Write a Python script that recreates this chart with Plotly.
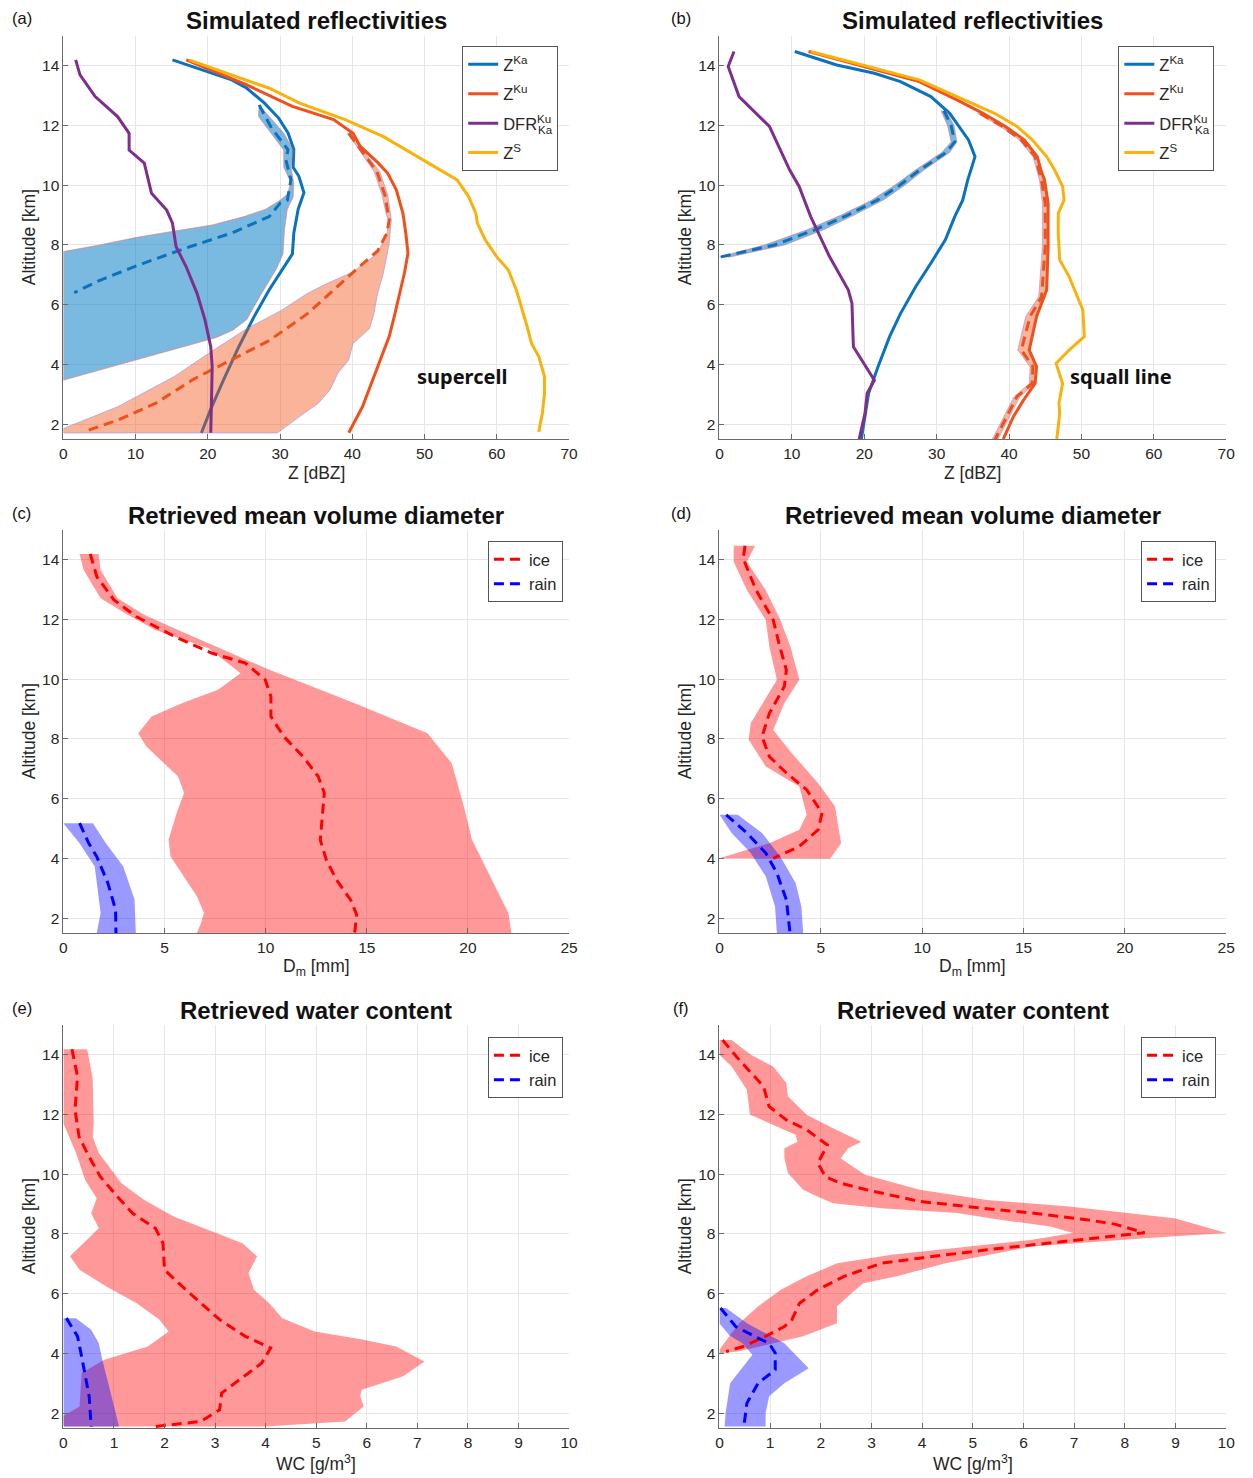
import plotly.graph_objects as go

# ---------------- Panel (a): supercell, simulated reflectivities [dBZ]
a_ka_alt = [14.2, 13.53, 13.25, 12.76, 12.25, 11.75, 11.2, 10.95, 10.6, 10.3, 9.75, 9.2, 8.4, 7.7, 7.3, 6.5, 5.6, 4.6, 3.5, 2.5, 1.7]
a_ka = [15.1, 23.3, 25.4, 27.8, 29.8, 31.1, 31.9, 31.9, 31.8, 32.6, 33.3, 32.5, 31.9, 31.7, 30.6, 28.5, 26.4, 24.3, 22.2, 20.4, 19.1]
a_ku_alt = [14.2, 13.36, 12.64, 12.2, 11.74, 11.3, 10.74, 10.4, 9.84, 9.06, 8.4, 7.72, 7.05, 6.38, 5.6, 4.93, 4.03, 3.36, 2.58, 1.71]
a_ku = [17.0, 25.4, 31.7, 37.4, 40.1, 41.1, 43.6, 44.9, 46.1, 47.0, 47.4, 47.7, 47.2, 46.6, 45.8, 45.1, 43.7, 42.7, 41.4, 39.5]
a_s_alt = [14.2, 13.8, 13.25, 12.75, 12.2, 11.63, 10.68, 10.18, 9.62, 9.06, 8.73, 8.17, 7.6, 7.16, 6.49, 5.93, 5.26, 4.7, 4.26, 3.59, 3.03, 2.36, 1.74]
a_s = [17.4, 22.2, 28.5, 32.7, 39.0, 44.3, 51.1, 54.5, 56.1, 57.1, 57.3, 58.4, 60.0, 61.6, 62.7, 63.4, 64.2, 64.8, 65.8, 66.6, 66.6, 66.3, 65.8]
a_dfr_alt = [14.2, 13.7, 12.97, 12.3, 11.74, 11.18, 10.74, 9.73, 9.17, 8.73, 7.94, 7.27, 6.38, 5.49, 4.59, 3.92, 2.8, 1.71]
a_dfr = [1.7, 2.3, 4.4, 7.5, 9.1, 9.1, 11.2, 12.2, 14.3, 15.1, 15.6, 17.0, 18.5, 19.6, 20.4, 20.6, 20.5, 20.4]
# retrieved Ka (dashed) and its uncertainty band
a_kar_alt = [12.69, 11.92, 11.19, 10.85, 10.18, 9.5, 9.4, 8.95, 8.4, 7.9, 7.3, 6.8, 6.4]
a_kar = [27.1, 28.8, 31.1, 30.8, 31.5, 31.0, 30.0, 28.5, 23.3, 17.0, 10.1, 4.9, 1.5]
a_kab_hi_alt = [12.69, 12.5, 11.75, 11.18, 10.6, 10.07, 9.6, 9.2, 8.5, 7.7, 7.2, 6.8, 6.2, 5.5, 5.15, 4.9, 4.5, 4.15, 3.8, 3.47]
a_kab_hi = [27.1, 27.8, 30.5, 31.8, 31.5, 31.9, 31.8, 31.0, 30.6, 30.4, 29.5, 28.5, 27.0, 25.4, 23.5, 21.2, 15.4, 10.1, 4.9, 0.0]
a_kab_lo_alt = [12.69, 12.3, 11.6, 11.18, 10.6, 10.1, 9.7, 9.5, 9.2, 8.95, 8.67, 8.45, 8.25, 8.0, 7.78, 3.47]
a_kab_lo = [27.1, 27.0, 29.2, 30.5, 30.5, 31.5, 31.0, 30.0, 28.0, 25.0, 20.6, 15.0, 10.0, 5.0, 0.0, 0.0]
# retrieved Ku (dashed) and its uncertainty band
a_kur_alt = [11.74, 11.3, 10.46, 9.68, 8.84, 8.4, 7.8, 7.3, 6.5, 5.7, 4.8, 4.15, 3.5, 2.7, 2.13, 1.74]
a_kur = [39.5, 40.8, 43.4, 44.5, 45.1, 44.8, 43.5, 41.1, 37.4, 33.8, 28.5, 23.3, 18.0, 12.8, 7.5, 2.8]
a_kub_hi_alt = [11.74, 11.3, 10.46, 9.68, 9.0, 8.84, 8.05, 7.05, 6.38, 5.7, 5.2, 4.7, 4.15, 3.7, 3.14, 2.7, 2.25, 1.7]
a_kub_hi = [39.9, 41.0, 43.8, 44.9, 45.3, 45.4, 45.1, 44.3, 43.5, 43.0, 42.4, 40.1, 39.5, 38.0, 36.9, 35.3, 32.7, 29.6]
a_kub_lo_alt = [11.74, 11.3, 10.46, 9.68, 9.0, 8.84, 8.4, 7.72, 7.1, 6.7, 6.38, 5.8, 5.2, 4.37, 3.6, 2.58, 1.85, 1.7]
a_kub_lo = [39.3, 40.6, 43.0, 44.1, 44.7, 45.0, 44.8, 43.5, 40.1, 36.4, 33.8, 30.1, 25.4, 20.1, 15.4, 7.5, 0.0, 0.0]

# ---------------- Panel (b): squall line
b_ka_alt = [14.48, 14.03, 13.75, 13.47, 12.97, 12.41, 11.52, 10.96, 10.18, 9.5, 8.95, 8.17, 7.39, 6.6, 5.7, 4.93, 3.92, 3.03, 1.5]
b_ka = [10.4, 16.2, 21.4, 25.0, 29.2, 31.8, 34.4, 35.3, 34.3, 33.6, 32.5, 31.2, 29.2, 27.1, 25.0, 23.5, 21.9, 20.6, 19.6]
b_ku_alt = [14.48, 13.98, 13.47, 12.86, 12.41, 11.97, 11.52, 10.96, 10.51, 10.18, 9.4, 7.94, 6.49, 5.6, 4.6, 4.48, 3.92, 3.36, 2.8, 2.25, 1.5]
b_ku = [12.3, 19.8, 27.6, 32.8, 36.4, 39.5, 42.1, 43.9, 44.4, 44.9, 45.4, 45.4, 45.2, 43.8, 42.9, 42.8, 43.8, 43.6, 42.0, 40.6, 39.2]
b_s_alt = [14.48, 14.03, 13.53, 12.97, 12.41, 11.97, 11.52, 10.96, 10.51, 9.96, 9.5, 9.06, 8.39, 7.5, 6.94, 5.82, 4.93, 4.48, 4.03, 3.36, 2.7, 2.36, 1.5]
b_s = [12.6, 19.8, 27.6, 32.8, 38.0, 41.1, 43.2, 45.2, 46.3, 47.4, 47.6, 46.8, 46.8, 47.0, 48.3, 50.2, 50.4, 48.3, 46.5, 47.4, 46.9, 47.0, 46.6]
b_dfr_alt = [14.48, 13.98, 12.97, 11.97, 10.51, 9.96, 8.95, 7.61, 6.49, 6.04, 4.59, 4.15, 3.47, 3.03, 2.36, 1.5]
b_dfr = [2.0, 1.2, 2.7, 6.9, 9.7, 11.0, 12.6, 15.2, 17.8, 18.3, 18.5, 19.6, 21.4, 20.4, 20.1, 19.3]
b_kar_alt = [12.5, 12.0, 11.45, 11.1, 10.5, 10.0, 9.5, 9.0, 8.5, 8.0, 7.6]
b_kar = [31.0, 32.0, 32.5, 31.3, 27.6, 24.9, 21.8, 17.7, 13.1, 7.6, 0.2]
b_kab_lo = [30.6, 31.5, 32.0, 30.7, 27.0, 24.2, 21.0, 16.8, 12.0, 6.2, 0.0]
b_kab_hi = [31.3, 32.4, 32.8, 31.8, 28.2, 25.6, 22.6, 18.6, 14.3, 9.0, 1.5]
b_kur_alt = [12.41, 11.97, 11.52, 10.96, 10.18, 9.4, 7.94, 6.27, 5.6, 4.48, 3.92, 3.36, 2.92, 2.25, 1.5]
b_kur = [36.0, 39.1, 41.7, 43.6, 44.5, 45.0, 45.0, 44.5, 42.9, 41.7, 43.3, 43.2, 41.1, 39.7, 38.1]
b_kub_lo = [35.6, 38.8, 41.4, 43.3, 44.2, 44.6, 44.6, 44.1, 42.3, 41.2, 42.9, 42.8, 40.7, 39.3, 37.7]
b_kub_hi = [36.4, 39.5, 42.1, 44.0, 44.9, 45.4, 45.4, 45.0, 43.6, 42.6, 43.7, 43.6, 41.5, 40.1, 38.5]

# ---------------- Panel (c): supercell Dm [mm]
c_ice_alt = [14.2, 13.44, 12.66, 12.1, 11.43, 10.87, 10.54, 9.98, 9.42, 8.75, 8.08, 7.41, 6.74, 6.19, 5.4, 4.62, 3.95, 3.28, 2.61, 2.11, 1.5]
c_ice = [1.33, 1.65, 2.5, 3.6, 5.5, 7.36, 9.0, 9.98, 10.26, 10.26, 10.9, 11.85, 12.6, 12.9, 12.8, 12.7, 13.0, 13.5, 14.2, 14.5, 14.4]
c_ice_lo_alt = [14.2, 13.66, 12.71, 12.21, 11.65, 11.04, 10.2, 9.65, 9.2, 8.75, 8.19, 7.75, 6.74, 6.19, 5.52, 4.62, 4.06, 3.51, 2.73, 2.17, 1.83, 1.5]
c_ice_lo = [0.8, 1.0, 1.84, 3.05, 4.55, 7.17, 8.76, 7.64, 5.86, 4.36, 3.7, 4.1, 5.67, 5.97, 5.6, 5.2, 5.3, 5.86, 6.6, 6.95, 6.8, 6.6]
c_ice_hi_alt = [14.2, 13.66, 12.71, 12.16, 11.65, 11.1, 10.37, 9.2, 8.19, 7.19, 5.74, 4.62, 2.95, 2.17, 1.5]
c_ice_hi = [1.74, 1.84, 2.68, 3.99, 5.67, 7.54, 10.0, 14.4, 18.0, 19.2, 19.8, 20.2, 21.4, 22.0, 22.15]
c_rain_alt = [5.18, 4.51, 4.06, 3.17, 2.28, 1.5]
c_rain = [0.8, 1.25, 1.65, 2.2, 2.58, 2.6]
c_rain_lo_alt = [5.18, 4.51, 3.73, 2.17, 1.5]
c_rain_lo = [0.0, 0.8, 1.55, 1.84, 1.65]
c_rain_hi_alt = [5.18, 4.51, 3.73, 2.61, 1.5]
c_rain_hi = [1.46, 2.1, 2.96, 3.52, 3.58]

# ---------------- Panel (d): squall line Dm [mm]
d_ice_alt = [14.47, 14.05, 12.99, 11.99, 11.21, 10.31, 9.76, 8.86, 8.08, 7.41, 6.86, 6.3, 5.52, 4.96, 4.4, 4.0]
d_ice = [1.26, 1.17, 1.8, 2.65, 2.93, 3.3, 3.2, 2.46, 2.1, 2.46, 3.3, 4.3, 5.06, 4.87, 3.94, 2.65]
d_ice_lo_alt = [14.47, 13.94, 12.99, 11.99, 11.1, 9.98, 8.53, 7.97, 7.08, 6.41, 5.46, 4.96, 4.51, 4.0]
d_ice_lo = [0.7, 0.7, 1.35, 2.28, 2.46, 2.83, 1.54, 1.44, 2.28, 3.94, 4.3, 3.94, 2.46, 0.0]
d_ice_hi_alt = [14.47, 13.94, 12.99, 11.99, 11.1, 9.98, 9.2, 8.3, 7.52, 6.52, 5.74, 4.51, 3.99]
d_ice_hi = [1.76, 1.35, 2.28, 3.0, 3.5, 3.94, 3.2, 2.65, 3.57, 4.87, 5.7, 6.0, 5.46]
d_rain_alt = [5.46, 4.85, 4.18, 3.51, 2.61, 1.5]
d_rain = [0.33, 1.35, 2.28, 2.83, 3.3, 3.48]
d_rain_lo_alt = [5.46, 4.85, 4.18, 3.4, 2.39, 1.5]
d_rain_lo = [0.0, 0.6, 1.54, 2.28, 2.74, 2.83]
d_rain_hi_alt = [5.46, 4.85, 4.06, 3.17, 2.39, 1.5]
d_rain_hi = [0.9, 2.1, 3.0, 3.76, 4.04, 4.13]

# ---------------- Panel (e): supercell water content [g/m3]
e_ice_alt = [14.19, 13.27, 12.16, 11.26, 10.71, 9.92, 9.25, 8.69, 8.19, 7.69, 6.8, 6.35, 5.68, 5.13, 4.57, 4.18, 3.67, 3.0, 2.67, 2.11, 1.72, 1.55]
e_ice = [0.17, 0.28, 0.23, 0.31, 0.47, 0.73, 1.07, 1.37, 1.82, 1.97, 2.0, 2.28, 2.72, 3.09, 3.6, 4.1, 3.92, 3.39, 3.13, 3.09, 2.72, 1.82]
e_ice_lo_alt = [14.19, 11.71, 10.71, 9.81, 9.2, 8.69, 8.19, 7.25, 6.8, 6.24, 5.68, 5.13, 4.73, 4.23, 3.79, 3.34, 2.22, 1.9, 1.55]
e_ice_lo = [0.0, 0.0, 0.25, 0.43, 0.66, 0.55, 0.7, 0.13, 0.32, 0.85, 1.45, 1.9, 2.08, 1.67, 0.81, 0.36, 0.32, 0.0, 0.0]
e_ice_hi_alt = [14.19, 13.22, 11.71, 11.26, 10.71, 9.7, 9.14, 8.58, 8.13, 7.69, 7.25, 6.69, 6.13, 5.68, 5.18, 4.73, 4.46, 4.23, 3.73, 3.23, 2.78, 2.56, 2.22, 1.72, 1.55]
e_ice_hi = [0.47, 0.58, 0.6, 0.58, 0.7, 1.15, 1.6, 2.19, 2.87, 3.54, 3.83, 3.66, 3.77, 4.07, 4.33, 4.97, 5.94, 6.58, 7.14, 6.72, 5.9, 5.87, 5.94, 5.57, 4.0]
e_rain_alt = [5.18, 4.57, 3.9, 3.23, 2.56, 1.55]
e_rain = [0.06, 0.28, 0.36, 0.43, 0.51, 0.55]
e_rain_lo_alt = [5.18, 1.55]
e_rain_lo = [0.0, 0.0]
e_rain_hi_alt = [5.18, 4.79, 4.34, 3.79, 2.78, 1.78, 1.55]
e_rain_hi = [0.25, 0.55, 0.7, 0.77, 0.92, 1.07, 1.1]

# ---------------- Panel (f): squall line water content [g/m3]
f_ice_alt = [14.5, 13.83, 12.94, 12.27, 11.82, 11.49, 10.98, 10.37, 9.92, 9.7, 9.48, 9.09, 8.86, 8.7, 8.47, 8.33, 8.04, 7.93, 7.7, 7.47, 7.19, 7.02, 6.58, 6.13, 5.68, 5.13, 4.9, 4.57, 4.23, 4.06]
f_ice = [0.06, 0.39, 0.87, 0.98, 1.32, 1.72, 2.13, 1.94, 2.09, 2.39, 2.9, 3.95, 5.2, 6.17, 7.28, 7.8, 8.39, 7.8, 6.5, 5.28, 3.95, 3.2, 2.46, 1.94, 1.58, 1.43, 1.28, 0.91, 0.47, 0.13]
f_ice_lo_alt = [14.5, 14.0, 13.61, 12.83, 12.0, 11.71, 11.32, 11.09, 10.87, 10.54, 10.04, 9.48, 9.25, 9.03, 8.86, 8.7, 8.47, 8.25, 8.03, 7.81, 7.58, 7.3, 7.02, 6.58, 6.13, 5.57, 5.01, 4.68, 4.12, 4.0]
f_ice_lo = [0.0, 0.0, 0.24, 0.54, 0.6, 0.98, 1.5, 1.54, 1.28, 1.28, 1.35, 1.65, 1.94, 2.24, 3.2, 4.69, 5.57, 6.53, 6.98, 6.17, 4.9, 3.4, 2.32, 1.72, 1.21, 0.76, 0.39, 0.24, 0.0, 0.0]
f_ice_hi_alt = [14.5, 14.0, 13.61, 13.06, 12.61, 11.99, 11.54, 11.09, 10.87, 10.54, 9.98, 9.48, 9.14, 8.92, 8.53, 8.03, 7.86, 7.58, 7.02, 6.58, 6.35, 6.02, 5.57, 5.01, 4.57, 4.06, 4.0]
f_ice_hi = [0.24, 0.62, 1.06, 1.32, 1.35, 1.72, 2.24, 2.8, 2.54, 2.39, 2.87, 3.95, 5.28, 6.9, 8.98, 10.0, 8.39, 6.17, 4.46, 3.5, 2.84, 2.61, 2.32, 2.32, 1.65, 0.36, 0.0]
f_rain_alt = [5.52, 4.9, 4.57, 4.34, 4.01, 3.45, 3.0, 2.33, 1.55]
f_rain = [0.02, 0.32, 0.69, 0.98, 1.1, 1.1, 0.76, 0.54, 0.48]
f_rain_lo_alt = [5.52, 5.0, 4.6, 4.34, 3.95, 3.0, 2.0, 1.55]
f_rain_lo = [0.0, 0.0, 0.2, 0.45, 0.65, 0.21, 0.12, 0.1]
f_rain_hi_alt = [5.52, 5.0, 4.34, 3.5, 3.0, 2.56, 2.0, 1.55]
f_rain_hi = [0.13, 0.55, 1.28, 1.76, 1.28, 0.98, 0.91, 0.91]

# ---------------- styles
W, H = 1253, 1478
FONT = "Liberation Sans, Arial, sans-serif"
C_KA = "#0A72BE"
C_KU = "#F0501A"
C_DFR = "#7E2F8E"
C_S = "#F9B10C"
DASH = "10px,6px"
LW = 3.0

fig = go.Figure()


def line(x, y, color, ax, name=None, dash=None, width=LW, legend=None, rank=None, group=None):
    fig.add_trace(go.Scatter(
        x=x, y=y, mode="lines", name=name,
        line=dict(color=color, width=width, dash=dash),
        showlegend=name is not None, legend=legend, legendrank=rank, legendgroup=group,
        xaxis="x" + ax, yaxis="y" + ax, hoverinfo="skip"))


def band(hx, hy, lx, ly, fill, edge, ax):
    fig.add_trace(go.Scatter(
        x=list(hx) + list(lx)[::-1], y=list(hy) + list(ly)[::-1],
        mode="lines", fill="toself", fillcolor=fill,
        line=dict(color=edge if edge else "rgba(0,0,0,0)", width=0.8 if edge else 0),
        showlegend=False, xaxis="x" + ax, yaxis="y" + ax, hoverinfo="skip"))


KA_FILL = "rgba(0,120,195,0.52)"
KU_FILL = "rgba(240,80,20,0.43)"
KA_EDGE = "rgba(240,110,110,0.7)"
KU_EDGE = "rgba(130,130,240,0.6)"

# (a)
line(a_ka, a_ka_alt, C_KA, "", "Z<sup>Ka</sup>", legend="legend", rank=1, group="a1")
band(a_kab_hi, a_kab_hi_alt, a_kab_lo, a_kab_lo_alt, KA_FILL, KA_EDGE, "")
band(a_kub_hi, a_kub_hi_alt, a_kub_lo, a_kub_lo_alt, KU_FILL, KU_EDGE, "")
line(a_kar, a_kar_alt, C_KA, "", dash=DASH)
line(a_kur, a_kur_alt, C_KU, "", dash=DASH)
line(a_ku, a_ku_alt, C_KU, "", "Z<sup>Ku</sup>", legend="legend", rank=2, group="a2")
line(a_dfr, a_dfr_alt, C_DFR, "", "DFR<sup>Ku</sup>", legend="legend", rank=3, group="a3")
line(a_s, a_s_alt, C_S, "", "Z<sup>S</sup>", legend="legend", rank=4, group="a4")

# (b)
line(b_ka, b_ka_alt, C_KA, "2", "Z<sup>Ka</sup>", legend="legend2", rank=1, group="b1")
band(b_kab_hi, b_kar_alt, b_kab_lo, b_kar_alt, KA_FILL, KA_EDGE, "2")
band(b_kub_hi, b_kur_alt, b_kub_lo, b_kur_alt, KU_FILL, KU_EDGE, "2")
line(b_ku, b_ku_alt, C_KU, "2", "Z<sup>Ku</sup>", legend="legend2", rank=2, group="b2")
line(b_kar, b_kar_alt, C_KA, "2", dash=DASH)
line(b_kur, b_kur_alt, C_KU, "2", dash=DASH)
line(b_dfr, b_dfr_alt, C_DFR, "2", "DFR<sup>Ku</sup>", legend="legend2", rank=3, group="b3")
line(b_s, b_s_alt, C_S, "2", "Z<sup>S</sup>", legend="legend2", rank=4, group="b4")

ICE_FILL = "rgba(255,0,0,0.4)"
RAIN_FILL = "rgba(0,0,255,0.4)"
panels = [
    ("3", "legend3", c_ice_hi, c_ice_hi_alt, c_ice_lo, c_ice_lo_alt, c_rain_hi, c_rain_hi_alt, c_rain_lo, c_rain_lo_alt, c_ice, c_ice_alt, c_rain, c_rain_alt),
    ("4", "legend4", d_ice_hi, d_ice_hi_alt, d_ice_lo, d_ice_lo_alt, d_rain_hi, d_rain_hi_alt, d_rain_lo, d_rain_lo_alt, d_ice, d_ice_alt, d_rain, d_rain_alt),
    ("5", "legend5", e_ice_hi, e_ice_hi_alt, e_ice_lo, e_ice_lo_alt, e_rain_hi, e_rain_hi_alt, e_rain_lo, e_rain_lo_alt, e_ice, e_ice_alt, e_rain, e_rain_alt),
    ("6", "legend6", f_ice_hi, f_ice_hi_alt, f_ice_lo, f_ice_lo_alt, f_rain_hi, f_rain_hi_alt, f_rain_lo, f_rain_lo_alt, f_ice, f_ice_alt, f_rain, f_rain_alt),
]
for ax, lg, ih, iha, il, ila, rh, rha, rl, rla, ice, ice_alt, rain, rain_alt in panels:
    band(ih, iha, il, ila, ICE_FILL, None, ax)
    band(rh, rha, rl, rla, RAIN_FILL, None, ax)
    line(ice, ice_alt, "#FF0000", ax, "ice", dash=DASH, legend=lg, rank=1)
    line(rain, rain_alt, "#0000FF", ax, "rain", dash=DASH, legend=lg, rank=2)

# ---------------- layout
XL = [60 / W, 571 / W]
XR = [723 / W, 1235 / W]
ROWS = [[1 - 439 / H, 1 - 36 / H], [1 - 933 / H, 1 - 530 / H], [1 - 1428 / H, 1 - 1025 / H]]
XR_RANGES = [[0, 70], [0, 70], [0, 25], [0, 25], [0, 10], [0, 10]]
XDT = [10, 10, 5, 5, 1, 1]

axis_style = dict(
    showline=True, linecolor="#6a6a6a", linewidth=1, mirror=False,
    ticks="inside", ticklen=5, tickcolor="#6a6a6a",
    showgrid=True, gridcolor="#e6e6e6", gridwidth=1, zeroline=False,
    tickfont=dict(family=FONT, size=15.5, color="#262626"),
)

layout = dict(
    width=W, height=H, margin=dict(l=0, r=0, t=0, b=0),
    paper_bgcolor="white", plot_bgcolor="white",
    font=dict(family=FONT, color="#262626"),
)
axes_names = ["", "2", "3", "4", "5", "6"]
for i, an in enumerate(axes_names):
    xd = XL if i % 2 == 0 else XR
    yd = ROWS[i // 2]
    layout["xaxis" + an] = dict(axis_style, domain=xd, range=XR_RANGES[i], dtick=XDT[i], tick0=0,
                                anchor="y" + an)
    layout["yaxis" + an] = dict(axis_style, domain=yd, range=[1.5, 15], tickvals=[2, 4, 6, 8, 10, 12, 14],
                                anchor="x" + an)

leg_style = dict(bgcolor="white", bordercolor="#555555", borderwidth=1,
                 font=dict(family=FONT, size=16.5, color="#262626"),
                 xanchor="left", yanchor="top")
layout["legend"] = dict(leg_style, x=463 / W, y=1 - 46 / H, tracegroupgap=5)
layout["legend2"] = dict(leg_style, x=1126 / W, y=1 - 46 / H, tracegroupgap=5)
layout["legend3"] = dict(leg_style, x=489 / W, y=1 - 541 / H)
layout["legend4"] = dict(leg_style, x=1149 / W, y=1 - 541 / H)
layout["legend5"] = dict(leg_style, x=489 / W, y=1 - 1037 / H)
layout["legend6"] = dict(leg_style, x=1149 / W, y=1 - 1037 / H)

fig.update_layout(**layout)

# subscript "Ka" stacked under "Ku" in the DFR legend entries
for lx in (463, 1126):
    fig.add_annotation(x=(lx + 75) / W, y=1 - 130 / H, xref="paper", yref="paper", text="Ka",
                       showarrow=False, xanchor="left", yanchor="middle",
                       font=dict(family=FONT, size=11.5, color="#262626"))

# titles, panel letters and axis titles
titles = ["Simulated reflectivities", "Simulated reflectivities",
          "Retrieved mean volume diameter", "Retrieved mean volume diameter",
          "Retrieved water content", "Retrieved water content"]
letters = ["(a)", "(b)", "(c)", "(d)", "(e)", "(f)"]
xtitles = ["Z [dBZ]", "Z [dBZ]", "D<sub>m</sub> [mm]", "D<sub>m</sub> [mm]",
           "WC [g/m<sup>3</sup>]", "WC [g/m<sup>3</sup>]"]
title_y = [20, 515, 1010]
xt_y = [473, 968, 1463]
for i in range(6):
    xd = XL if i % 2 == 0 else XR
    r = i // 2
    cx = (xd[0] + xd[1]) / 2
    fig.add_annotation(x=cx, y=1 - title_y[r] / H, xref="paper", yref="paper", text="<b>" + titles[i] + "</b>",
                       showarrow=False, font=dict(family=FONT, size=24, color="#111111"),
                       xanchor="center", yanchor="middle")
    fig.add_annotation(x=(18 if i % 2 == 0 else 684) / W, y=1 - (title_y[r] - 2) / H, xref="paper", yref="paper",
                       text=letters[i], showarrow=False, font=dict(family=FONT, size=16.5, color="#111111"),
                       xanchor="center", yanchor="middle")
    fig.add_annotation(x=cx, y=1 - xt_y[r] / H, xref="paper", yref="paper", text=xtitles[i],
                       showarrow=False, font=dict(family=FONT, size=17.5, color="#262626"),
                       xanchor="center", yanchor="middle")
    yd = ROWS[r]
    fig.add_annotation(x=(25 if i % 2 == 0 else 688) / W, y=(yd[0] + yd[1]) / 2, xref="paper", yref="paper",
                       text="Altitude [km]", textangle=-90, showarrow=False,
                       font=dict(family=FONT, size=17.5, color="#262626"),
                       xanchor="center", yanchor="middle")

fig.add_annotation(x=55.2, y=3.6, xref="x", yref="y", text="<b>supercell</b>", showarrow=False,
                   font=dict(family="Noto Sans", size=20, color="#111111"))
fig.add_annotation(x=55.4, y=3.6, xref="x2", yref="y2", text="<b>squall line</b>", showarrow=False,
                   font=dict(family="Noto Sans", size=20, color="#111111"))

fig.write_html("out.html")
